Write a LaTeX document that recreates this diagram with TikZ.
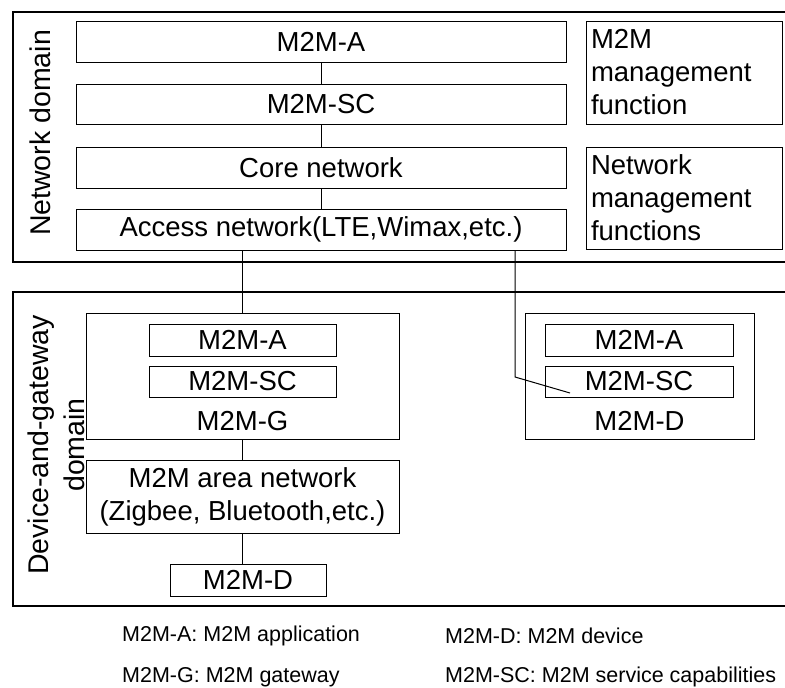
\documentclass[tikz,border=0pt]{standalone}
\usepackage{fontspec}
\setmainfont{Liberation Sans}
\usepackage{tikz}
\usetikzlibrary{positioning}

\tikzset{
  box/.style={draw,line width=1pt,inner sep=0pt,font=\fontsize{27.5}{33}\selectfont},
  mgmtbox/.style={box,text width=186pt,inner xsep=5pt,align=left,minimum height=103pt},
  dombox/.style={draw,line width=1.3pt,inner sep=0pt},
  domlabel/.style={rotate=90,align=center,font=\fontsize{28.5}{36}\selectfont},
  legend/.style={anchor=west,inner sep=0pt,font=\fontsize{21.5}{26}\selectfont}
}

\begin{document}
\begin{tikzpicture}[x=1pt,y=-1pt]
\useasboundingbox (0,0) rectangle (785,688);
% network domain
\node[dombox,minimum width=777pt,minimum height=250pt] (netdom) at (401.5,137) {};
\node[domlabel] (netlbl) at (40,133) {Network domain};
\node[box,minimum width=490pt,minimum height=41pt] (na) at (321,41.5) {M2M-A};
\node[box,minimum width=490pt,minimum height=40pt] (nsc) at (321,104) {M2M-SC};
\node[box,minimum width=490pt,minimum height=41pt] (core) at (321,167.5) {Core network};
\node[box,minimum width=490pt,minimum height=41pt] (acc) at (321,229.5) {Access network(LTE,Wimax,etc.)};
\node[mgmtbox] (mgmt) at (684,72.5) {M2M\\management\\function};
\node[mgmtbox,minimum height=102pt] (netmgmt) at (684,198) {Network\\management\\functions};
\draw[line width=1pt] (na) -- (nsc) -- (core) -- (acc);

% device and gateway domain
\node[dombox,minimum width=777pt,minimum height=314pt] (devdom) at (401.5,449) {};
\node[domlabel] (devlbl) at (56,445) {Device-and-gateway\\domain};
\node[box,minimum width=313pt,minimum height=126pt] (gw) at (242.5,376) {};
\node[box,minimum width=187pt,minimum height=32pt] (gwa) at (242.5,340) {M2M-A};
\node[box,minimum width=187pt,minimum height=31pt] (gwsc) at (242.5,381.5) {M2M-SC};
\node[font=\fontsize{27.5}{33}\selectfont] (gwlbl) at (242.5,421) {M2M-G};
\node[box,minimum width=313pt,minimum height=73pt,align=center] (area) at (242.5,496.5) {M2M area network\\(Zigbee, Bluetooth,etc.)};
\node[box,minimum width=156pt,minimum height=32pt] (dd) at (248,580) {M2M-D};
\node[box,minimum width=229pt,minimum height=126pt] (dev) at (639.5,376) {};
\node[box,minimum width=188pt,minimum height=32pt] (deva) at (639,340) {M2M-A};
\node[box,minimum width=188pt,minimum height=31pt] (devsc) at (639,381.5) {M2M-SC};
\node[font=\fontsize{27.5}{33}\selectfont] (devlbl2) at (639.5,421) {M2M-D};
\draw[line width=1pt] (gw) -- (area);
\draw[line width=1pt] (area.south) -- (area.south |- dd.north);

% links between the domains
\coordinate (turn) at (515,377);
\coordinate (tip) at (570,393);
\draw[line width=1pt] (acc.south -| gw.north) -- (gw.north);
\draw[line width=1pt] (acc.south -| turn) -- (turn) -- (tip);

% legend
\node[legend] (la) at (122,636) {M2M-A: M2M application};
\node[legend] (ld) at (445,636) {M2M-D: M2M device};
\node[legend] (lg) at (122,677) {M2M-G: M2M gateway};
\node[legend] (lsc) at (445,677) {M2M-SC: M2M service capabilities};
\end{tikzpicture}
\end{document}
